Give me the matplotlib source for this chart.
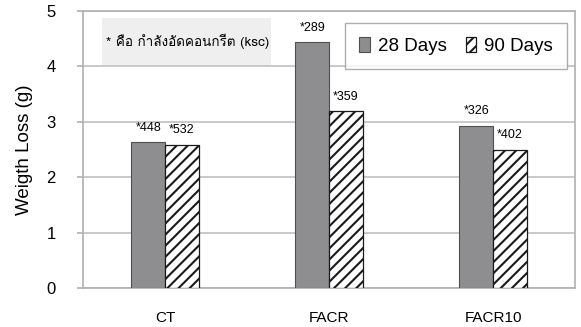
import numpy as np
import matplotlib
matplotlib.use("Agg")
import matplotlib.pyplot as plt
from matplotlib import font_manager
from matplotlib.ft2font import FT2Font
from matplotlib.patches import Rectangle

categories = ["CT", "FACR", "FACR10"]
loss_28 = [2.63, 4.44, 2.93]
loss_90 = [2.59, 3.19, 2.50]
strength_28 = ["*448", "*289", "*326"]
strength_90 = ["*532", "*359", "*402"]
note = "* คือ กำลังอัดคอนกรีต (ksc)"


def thai_family():
    # first installed font that has Thai glyphs
    for f in font_manager.fontManager.ttflist:
        try:
            if 0x0E01 in FT2Font(f.fname).get_charmap():
                return f.name
        except Exception:
            pass
    return "DejaVu Sans"


plt.rcParams["font.family"] = ["Liberation Sans", "DejaVu Sans"]
plt.rcParams["hatch.linewidth"] = 1.5

fig = plt.figure(figsize=(5.81, 3.27), dpi=100)
ax = fig.add_axes([83 / 581, 1 - 288 / 327, 492 / 581, 277 / 327])

x = np.arange(len(categories))
w = 0.205
ax.bar(x - w / 2, loss_28, w, color="#8e8e90", edgecolor="#505050",
       linewidth=0.8, label="28 Days", zorder=3)
ax.bar(x + w / 2, loss_90, w, color="white", edgecolor="#1a1a1a",
       hatch="///", linewidth=0.9, label="90 Days", zorder=3)

for xi, v, s in zip(x, loss_28, strength_28):
    ax.annotate(s, (xi - w / 2, v), xytext=(0, 6), textcoords="offset points",
                ha="center", va="bottom", fontsize=9)
for xi, v, s in zip(x, loss_90, strength_90):
    ax.annotate(s, (xi + w / 2, v), xytext=(0, 6), textcoords="offset points",
                ha="center", va="bottom", fontsize=9)

ax.set_xlim(-0.5, 2.5)
ax.set_ylim(0, 5)
ax.set_yticks(range(6))
ax.set_xticks(x)
ax.set_xticklabels(categories)
ax.tick_params(axis="x", length=0, pad=16.5, labelsize=11)
ax.tick_params(axis="y", length=4.5, width=1.2, color="#b0b0b0", labelsize=12, pad=15)
ax.set_ylabel("Weigth Loss (g)", fontsize=13.5, labelpad=10)

ax.grid(axis="y", color="#c0c0c0", linewidth=1.2, zorder=0)
for side in ["left", "bottom", "right", "top"]:
    ax.spines[side].set_color("#b0b0b0")
    ax.spines[side].set_linewidth(1.2)

# grey note box with the compressive strength remark
ax.add_patch(Rectangle((0.0386, 0.804), 0.344, 0.171, transform=ax.transAxes,
                       facecolor="#efefef", edgecolor="none", zorder=4))
ax.text(0.046, 0.89, note, transform=ax.transAxes, fontsize=9.7,
        family=[thai_family(), "DejaVu Sans"], va="center", ha="left", zorder=5)

leg = ax.legend(loc="upper right", bbox_to_anchor=(0.984, 0.957), ncol=2,
                fontsize=13.5, frameon=True, fancybox=False, handlelength=0.55,
                handleheight=0.85, handletextpad=0.45, columnspacing=1.0,
                borderpad=0.75, borderaxespad=0)
leg.get_frame().set_edgecolor("#999999")
leg.get_frame().set_linewidth(1)

fig.savefig("out.png", dpi=100)
